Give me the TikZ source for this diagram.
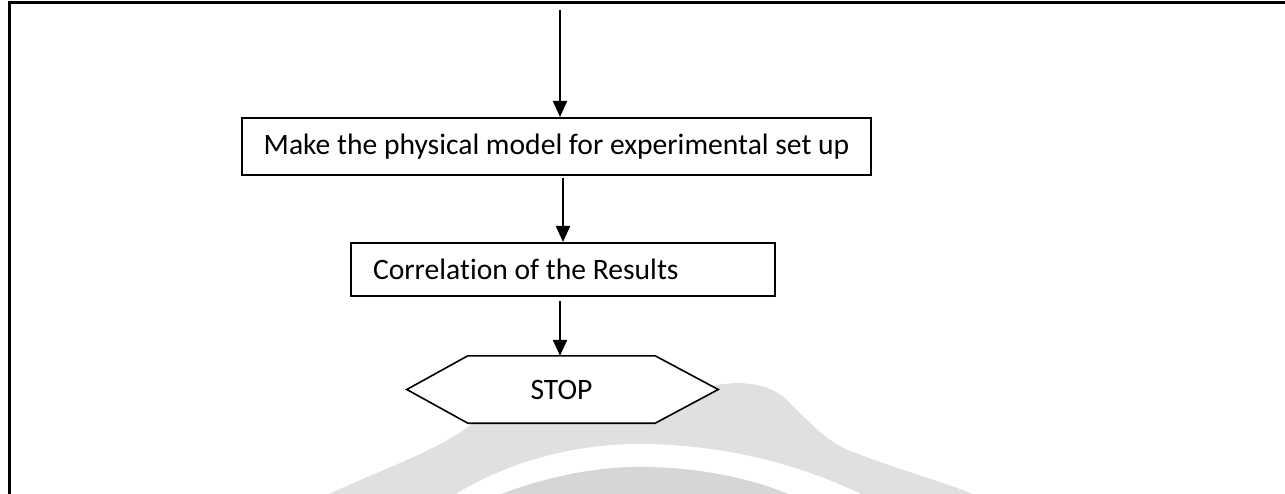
\documentclass[tikz,border=0pt]{standalone}
\usepackage{fontspec}
\setmainfont{Carlito}[Ligatures={NoCommon}]
\usetikzlibrary{arrows.meta,backgrounds}
\tikzset{
  txt/.style={font=\fontsize{29.6}{33}\selectfont},
  box/.style={draw=black, line width=2pt, fill=white, inner sep=0pt, txt},
  arr/.style={draw=black, line width=2.2pt, -{Triangle[width=14pt,length=16pt]}},
  frame/.style={draw=black, line width=3pt},
  wmouter/.style={fill=black!12},
  wminner/.style={fill=black!16},
}
\begin{document}
\begin{tikzpicture}[x=1pt,y=-1pt]
\useasboundingbox (0,0) rectangle (1285,494);
% frame
\draw[frame] (9.5,494) -- (9.5,3) -- (1285,3);
% nodes
\coordinate (start) at (560,10);
\node[box, minimum width=629pt, minimum height=57pt] (model) at (556.5,146.5) {Make the physical model for experimental set up};
\node[box, minimum width=424pt, minimum height=53pt, text width=380pt, inner xsep=22pt, align=flush left] (corr) at (563,269.5) {Correlation of the Results};
\node[inner sep=0pt, minimum width=187pt, minimum height=67pt, txt] (stop) at (561.5,389.5) {STOP};
\begin{pgfonlayer}{background}
% watermark
\fill[wmouter] (329,494) .. controls (380,470) and (440,450) .. (473,423) -- (700,388)
  .. controls (728,382) and (760,378) .. (785,398) .. controls (812,425) and (830,445) .. (856,453)
  .. controls (905,472) and (945,482) .. (972,494) -- cycle;
\fill[white] (456,494) .. controls (520,455) and (590,443) .. (648,444) .. controls (730,446) and (800,465) .. (861,494) -- cycle;
\fill[wminner] (501,494) .. controls (560,472) and (610,466) .. (648,467) .. controls (700,468) and (750,478) .. (788,494) -- cycle;
\draw[line width=1.6pt, fill=white, line join=miter] (stop.north west) -- (stop.north east) -- ([xshift=63pt]stop.east) -- (stop.south east) -- (stop.south west) -- ([xshift=-61pt]stop.west) -- cycle;
\end{pgfonlayer}
% connectors
\draw[arr] (start) -- (start |- model.north);
\draw[arr, shorten <=2pt] (model.south -| corr.north) -- (corr.north);
\draw[arr, shorten <=4pt] (corr.south -| start) -- (stop.north -| start);
\end{tikzpicture}
\end{document}
